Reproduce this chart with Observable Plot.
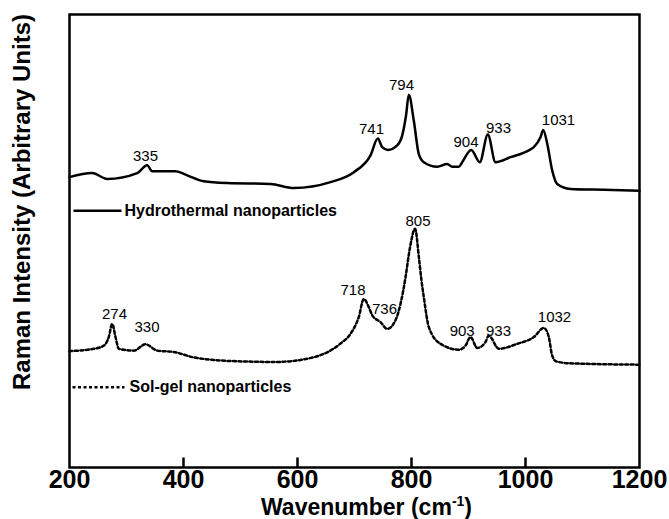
<!DOCTYPE html>
<html><head><meta charset="utf-8">
<script src="https://cdn.jsdelivr.net/npm/d3@7"></script>
<script src="https://cdn.jsdelivr.net/npm/@observablehq/plot@0.6"></script>
<style>body{margin:0;background:#fff}</style>
</head><body><div id="chart"></div>
<script>
// Hydrothermal nanoparticles spectrum (wavenumber, intensity in arbitrary units)
const hydroWn  = [200, 239.8, 266.1, 318.8, 336.3, 345.1, 386, 406.5, 435.6, 476.7, 552.6, 593.5, 657.9, 698.8, 728.1, 740.9, 748.6, 758.4, 774.9, 783.3, 790.4, 795.3, 804, 812.8, 821.6, 845.1, 862.6, 871.4, 883, 888.9, 904.7, 919.8, 933.9, 947.4, 973.7, 1005.8, 1014.6, 1026.3, 1031.1, 1038.1, 1046.8, 1055.6, 1078.9, 1137.4, 1200];
const hydroInt = [64.1, 65.0, 63.7, 65.0, 66.7, 65.4, 65.4, 64.5, 63.2, 62.8, 62.6, 61.7, 63.0, 65.2, 68.9, 72.6, 70.7, 70.1, 71.1, 73.1, 77.7, 82.3, 76.6, 69.2, 67.4, 66.4, 67.0, 66.4, 66.4, 67.4, 70.1, 67.4, 73.5, 67.4, 68.5, 70.0, 70.7, 72.9, 74.5, 71.5, 65.6, 62.6, 61.5, 61.3, 61.1];

// Sol-gel nanoparticles spectrum
const solWn  = [200, 242.6, 260.2, 268.9, 274.9, 280.7, 286.5, 312.8, 333.3, 353.9, 383, 418.1, 447.4, 508.8, 561.4, 627, 674.7, 693.0, 707.5, 716.3, 725.1, 731.1, 745.6, 757.4, 771.9, 780.7, 789.5, 797.4, 806.3, 813.2, 817.5, 821.6, 830.4, 850.9, 883, 894.7, 903.5, 915.3, 929.8, 935.6, 953.2, 985.4, 1014.6, 1032.1, 1040.9, 1046.8, 1054.4, 1078.9, 1200];
const solInt = [25.7, 26.2, 26.9, 28.8, 31.7, 28.8, 26.2, 25.8, 27.2, 25.8, 25.5, 24.3, 23.8, 23.4, 23.3, 24.3, 27.3, 29.5, 33.2, 37.2, 35.4, 33.6, 32.1, 30.6, 32.5, 36.1, 42.0, 48.6, 52.7, 46.1, 41.3, 37.6, 31.0, 27.3, 26.0, 26.9, 28.8, 26.4, 27.7, 29.1, 26.2, 27.3, 28.8, 30.8, 28.8, 24.7, 23.4, 23.0, 22.7];

// Peak annotations
const peakText = ["335", "741", "794", "904", "933", "1031", "274", "330", "718", "736", "805", "903", "933", "1032"];
const peakWn   = [333.3, 729.8, 782.5, 895.6, 952.6, 1057.9, 278.9, 336, 697.4, 752.6, 811.4, 888.9, 952.6, 1050.9];
const peakInt  = [67.6, 73.7, 83.4, 70.7, 73.9, 75.5, 32.8, 29.9, 38.0, 33.9, 53.4, 29.1, 29.1, 32.1];

// Legend
const legendText = ["Hydrothermal nanoparticles", "Sol-gel nanoparticles"];
const legendDash = [null, "3,2.5"];
const legendX1 = [207, 205.3];
const legendX2 = [291.2, 296.5];
const legendTextX = [296.5, 305.3];
const legendY = [56.7, 17.7];

const xTicks = [200, 400, 600, 800, 1000, 1200];
const xInnerTicks = [400, 600, 800, 1000];

const hydro = hydroWn.map((w, i) => ({w, v: hydroInt[i]}));
const sol = solWn.map((w, i) => ({w, v: solInt[i]}));
const peaks = peakText.map((t, i) => ({t, w: peakWn[i], v: peakInt[i]}));
const legend = legendText.map((t, i) => ({t, x1: legendX1[i], x2: legendX2[i], tx: legendTextX[i], y: legendY[i], dash: legendDash[i]}));

const font = "'Liberation Sans', Arial, Helvetica, sans-serif";

const chart = Plot.plot({
  width: 669, height: 519,
  marginLeft: 69, marginRight: 30, marginTop: 14, marginBottom: 52,
  style: {fontFamily: font, background: "#fff", color: "#000"},
  x: {domain: [200, 1200]},
  y: {domain: [0, 100], axis: null},
  marks: [
    Plot.axisX({ticks: xTicks, tickSize: 0, tickPadding: 3, tickFormat: d => String(d), fontSize: 25, fontWeight: "bold", label: null}),
    Plot.ruleX(xInnerTicks, {y1: 0, y2: 2.1, stroke: "#000", strokeWidth: 2.5}),
    Plot.line(hydro, {x: "w", y: "v", curve: "monotone-x", strokeWidth: 2.5, stroke: "#000"}),
    Plot.line(sol, {x: "w", y: "v", curve: "monotone-x", strokeWidth: 2.5, stroke: "#000", strokeDasharray: "3,2.5"}),
    Plot.text(peaks, {x: "w", y: "v", text: "t", lineAnchor: "bottom", fontSize: 15, fill: "#000"}),
    Plot.link(legend.filter(d => !d.dash), {x1: "x1", x2: "x2", y1: "y", y2: "y", stroke: "#000", strokeWidth: 2.5}),
    Plot.link(legend.filter(d => d.dash), {x1: "x1", x2: "x2", y1: "y", y2: "y", stroke: "#000", strokeWidth: 2.5, strokeDasharray: "3,2.5"}),
    Plot.text(legend, {x: "tx", y: "y", text: "t", textAnchor: "start", fontSize: 16, fontWeight: "bold", fill: "#000"}),
    Plot.text(["Raman Intensity (Arbitrary Units)"], {frameAnchor: "left", textAnchor: "middle", rotate: -90, dx: -47, dy: -39, fontSize: 24, fontWeight: "bold", fill: "#000"}),
    Plot.text(["Wavenumber (cm-1)"], {frameAnchor: "bottom", textAnchor: "middle", lineAnchor: "bottom", dx: 12, dy: 47, fontSize: 23, fontWeight: "bold", fill: "#000"}),
    Plot.frame({strokeWidth: 2.5, stroke: "#000"})
  ]
});

// superscript for the x-axis label
d3.select(chart).selectAll("text").filter(function() { return this.textContent === "Wavenumber (cm-1)"; })
  .each(function() {
    const t = d3.select(this);
    t.text(null);
    t.append("tspan").text("Wavenumber (cm");
    t.append("tspan").attr("dy", -9).attr("font-size", 14).text("-1");
    t.append("tspan").attr("dy", 9).text(")");
  });

document.getElementById("chart").appendChild(chart);
</script>
</body></html>
